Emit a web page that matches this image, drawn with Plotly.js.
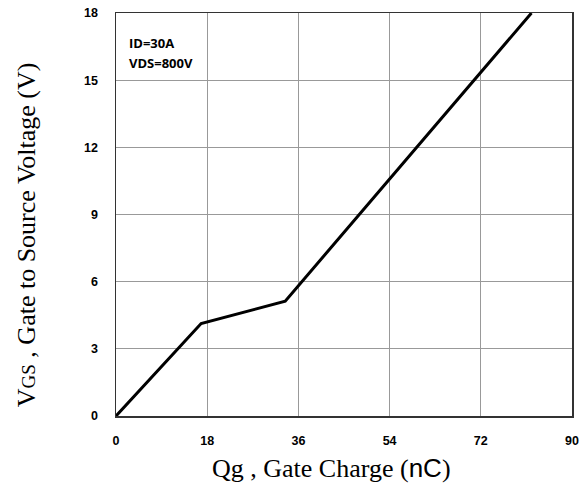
<!DOCTYPE html>
<html><head><meta charset="utf-8">
<script src="https://cdn.plot.ly/plotly-3.0.1.min.js"></script>
<style>body{margin:0;background:#fff}#c{width:586px;height:489px}</style>
</head><body><div id="c"></div>
<script>
const qg = [0, 16.8, 33.4, 82];
const vgs = [0, 4.13, 5.13, 18];
const xTicks = [0, 18, 36, 54, 72, 90];
const yTicks = [0, 3, 6, 9, 12, 15, 18];
const notes = ['ID=30A', 'VDS=800V'];
const xTitle = "Qg , Gate Charge (<span style=\"font-family:'Liberation Sans',Arial,sans-serif\">nC</span>)";
const yTitle = 'V<span style="font-size:19px">GS</span> , Gate to Source Voltage (V)';

const tickFont = {family: 'Liberation Sans, Arial', size: 12.5, color: '#000', weight: 'bold'};
const serif = {family: 'Liberation Serif, Times New Roman', size: 26, color: '#000'};
const anns = notes.map((t, i) => ({
  xref: 'paper', yref: 'paper', x: 0.025, y: 0.953 - i * 0.05, xanchor: 'left', yanchor: 'top',
  align: 'left', showarrow: false, text: t,
  font: {family: 'Open Sans, Lato', size: 13, color: '#000', weight: 'bold'}
}));
anns.push({xref: 'paper', yref: 'paper', x: 0.4715, y: -0.13, xanchor: 'center', yanchor: 'middle',
  showarrow: false, text: xTitle, font: serif});
anns.push({xref: 'paper', yref: 'paper', x: -0.197, y: 0.449, xanchor: 'center', yanchor: 'middle',
  showarrow: false, text: yTitle, font: serif, textangle: -90});

Plotly.newPlot('c', [{
  x: qg, y: vgs, mode: 'lines', type: 'scatter',
  line: {color: '#000', width: 3}, cliponaxis: true, hoverinfo: 'skip'
}], {
  width: 586, height: 489,
  margin: {l: 116, r: 14, t: 13, b: 73},
  paper_bgcolor: '#fff', plot_bgcolor: '#fff',
  showlegend: false,
  xaxis: {
    range: [0, 90], tickvals: xTicks, ticktext: xTicks.map(String),
    showgrid: true, gridcolor: '#999', gridwidth: 1, zeroline: false,
    showline: true, linecolor: '#333', linewidth: 1.5, mirror: true,
    ticks: '', tickfont: tickFont, ticklabelstandoff: 12
  },
  yaxis: {
    range: [0, 18], tickvals: yTicks, ticktext: yTicks.map(String),
    showgrid: true, gridcolor: '#999', gridwidth: 1, zeroline: false,
    showline: true, linecolor: '#333', linewidth: 1.5, mirror: true,
    ticks: '', tickfont: tickFont, ticklabelstandoff: 14
  },
  annotations: anns
}, {displayModeBar: false, staticPlot: true});
</script></body></html>
